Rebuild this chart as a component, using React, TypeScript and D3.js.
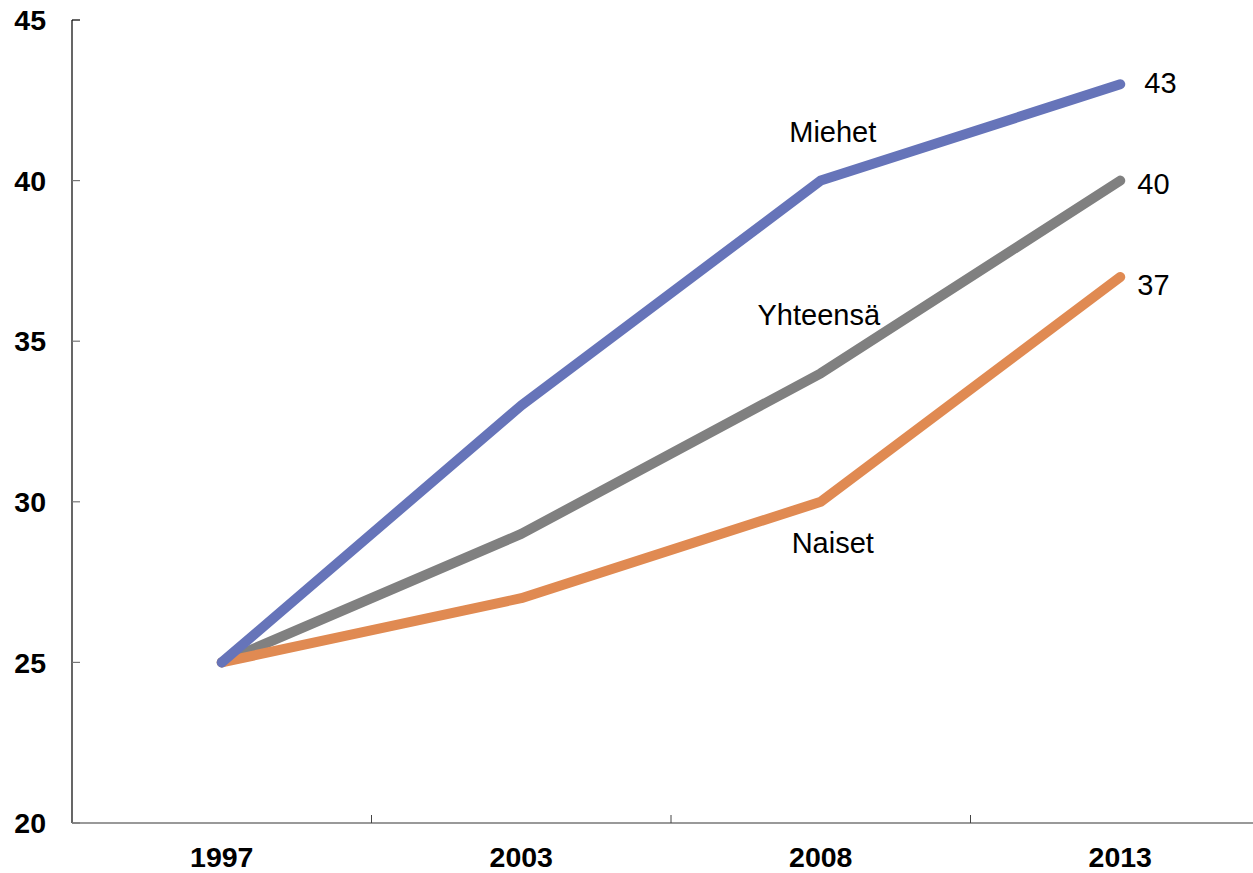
import React from 'react';
import * as d3 from 'd3';

const years = ['1997', '2003', '2008', '2013'];
const miehet = [25, 33, 40, 43];
const yhteensa = [25, 29, 34, 40];
const naiset = [25, 27, 30, 37];
const yTicks = [20, 25, 30, 35, 40, 45];

const width = 1253;
const height = 873;
const font = 'Liberation Sans, Arial, sans-serif';

// series in draw order (blue on top)
const series = [
  { name: 'Yhteensä', values: yhteensa, color: '#808080', lab: [-2, -48], val: [17, 13] },
  { name: 'Naiset', values: naiset, color: '#E08A52', lab: [12, 51], val: [17, 18] },
  { name: 'Miehet', values: miehet, color: '#6674B9', lab: [12, -39], val: [24, 9] },
];

const App: React.FC = () => {
  const x = d3.scaleBand<string>().domain(years).range([72, 72 + 4 * 299.5]);
  const y = d3.scaleLinear().domain([20, 45]).range([823, 20]);
  const cx = (d: string) => (x(d) as number) + x.bandwidth() / 2;

  const line = d3
    .line<number>()
    .x((_, i) => cx(years[i]))
    .y((d) => y(d));

  const last = years.length - 1;

  return (
    <svg width={width} height={height} style={{ position: 'absolute', left: 0, top: 0 }}>
      <rect width={width} height={height} fill="#fff" />

      {/* y axis */}
      <line x1={72} x2={72} y1={y(45)} y2={y(20)} stroke="#000" strokeWidth={1.2} />
      {yTicks.map((t) => (
        <g key={t}>
          <line x1={72} x2={80} y1={y(t)} y2={y(t)} stroke={t === 45 ? '#000' : '#777'} strokeWidth={1.2} />
          <text
            x={46}
            y={y(t)}
            dy="0.36em"
            textAnchor="end"
            fontFamily={font}
            fontWeight="bold"
            fontSize={28.5}
          >
            {t}
          </text>
        </g>
      ))}

      {/* x axis */}
      <line x1={72} x2={width} y1={y(20)} y2={y(20)} stroke="#777" strokeWidth={1.5} />
      {years.slice(1).map((d) => (
        <line key={d} x1={x(d)} x2={x(d)} y1={y(20)} y2={y(20) - 8} stroke="#444" strokeWidth={1} />
      ))}
      {years.map((d) => (
        <text
          key={d}
          x={cx(d)}
          y={867}
          textAnchor="middle"
          fontFamily={font}
          fontWeight="bold"
          fontSize={28.5}
        >
          {d}
        </text>
      ))}

      {/* lines */}
      {series.map((s) => (
        <path
          key={s.name}
          d={line(s.values) as string}
          fill="none"
          stroke={s.color}
          strokeWidth={10}
          strokeLinecap="round"
          strokeLinejoin="round"
        />
      ))}

      {/* labels */}
      {series.map((s) => (
        <g key={s.name + '-lab'} fontFamily={font} fontSize={29}>
          <text x={cx(years[2]) + s.lab[0]} y={y(s.values[2]) + s.lab[1]} textAnchor="middle">
            {s.name}
          </text>
          <text x={cx(years[last]) + s.val[0]} y={y(s.values[last]) + s.val[1]}>
            {s.values[last]}
          </text>
        </g>
      ))}
    </svg>
  );
};

export default App;
